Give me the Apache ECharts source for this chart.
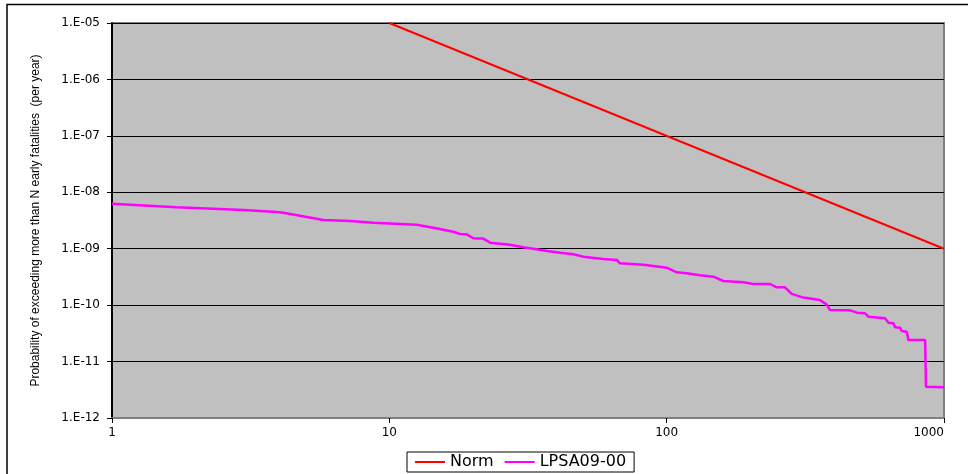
<!DOCTYPE html>
<html>
<head>
<meta charset="utf-8">
<script src="https://cdn.jsdelivr.net/npm/echarts@6/dist/echarts.min.js"></script>
<style>
  html, body { margin: 0; padding: 0; background: #fff; }
  #chart-container { width: 968px; height: 474px; }
</style>
</head>
<body>
<div id="chart-container"></div>
<script>
// Norm criterion line (N, probability per year)
const normN = [10, 1000];
const normP = [1e-5, 1e-9];

// LPSA09-00 curve
const lpsaN = [1, 1.71, 2.98, 3.93, 4.15, 5.78, 7.22, 8.76, 12.55, 13.3,
    15.2, 17.0, 18.0, 19.0, 20.1, 21.8, 23.1, 27.2, 30.4, 33.0,
    37.0, 41.3, 46.1, 50.1, 59.1, 66.1, 67.9, 82.4, 100, 108.7,
    118, 131.9, 147.3, 160, 189, 203, 236, 249.5, 267, 282.5,
    311, 357, 378, 388, 459, 485, 519, 534, 613, 631,
    657, 666, 695, 704, 734, 744, 855, 861, 1000];
const lpsaP = [6.28e-9, 5.42e-9, 4.85e-9, 4.48e-9, 4.35e-9, 3.23e-9, 3.10e-9, 2.89e-9, 2.67e-9, 2.53e-9,
    2.23e-9, 2.0e-9, 1.82e-9, 1.80e-9, 1.53e-9, 1.51e-9, 1.28e-9, 1.18e-9, 1.06e-9, 1.0e-9,
    9.1e-10, 8.5e-10, 7.96e-10, 7.23e-10, 6.58e-10, 6.31e-10, 5.52e-10, 5.21e-10, 4.61e-10, 3.82e-10,
    3.66e-10, 3.38e-10, 3.19e-10, 2.68e-10, 2.54e-10, 2.40e-10, 2.37e-10, 2.07e-10, 2.07e-10, 1.58e-10,
    1.36e-10, 1.23e-10, 1.02e-10, 8.2e-11, 8.1e-11, 7.35e-11, 7.17e-11, 6.24e-11, 5.85e-11, 4.89e-11,
    4.77e-11, 4.05e-11, 3.98e-11, 3.48e-11, 3.39e-11, 2.41e-11, 2.41e-11, 3.59e-12, 3.5e-12];

// tick labels, indexed by decade
const xTickLabels = ['1', '10', '100', '1000'];
const yTickLabels = ['1.E-12', '1.E-11', '1.E-10', '1.E-09', '1.E-08', '1.E-07', '1.E-06', '1.E-05'];

const chartDom = document.getElementById('chart-container');
const myChart = echarts.init(chartDom, null, { renderer: 'canvas' });

const zip = (xs, ys) => xs.map((x, i) => [x, ys[i]]);
const decade = v => Math.round(Math.log10(v));

const option = {
    animation: false,
    backgroundColor: '#fff',
    graphic: [{
        type: 'rect',
        shape: { x: 7, y: 4.5, width: 1000, height: 500 },
        style: { fill: 'none', stroke: '#000', lineWidth: 1.5 },
        silent: true
    }],
    grid: {
        left: 112, right: 24, top: 23, bottom: 56,
        show: true,
        backgroundColor: '#c0c0c0',
        borderColor: '#808080',
        borderWidth: 2
    },
    legend: {
        left: 407, top: 452,
        padding: [1, 8],
        itemGap: 11,
        itemWidth: 30,
        itemHeight: 2,
        icon: 'rect',
        borderColor: '#000',
        borderWidth: 1,
        backgroundColor: '#fff',
        textStyle: { fontFamily: 'DejaVu Sans', fontSize: 16, color: '#000', lineHeight: 18 },
        data: ['Norm', 'LPSA09-00']
    },
    xAxis: {
        type: 'log',
        logBase: 10,
        min: 1, max: 1000,
        interval: 1,
        axisLine: { onZero: false, lineStyle: { color: '#808080', width: 2 } },
        axisTick: { show: true, inside: false, length: 5, lineStyle: { color: '#000' } },
        minorTick: { show: false },
        splitLine: { show: false },
        axisLabel: {
            margin: 9,
            color: '#000',
            fontFamily: 'DejaVu Sans',
            fontSize: 12,
            alignMaxLabel: 'right',
            formatter: v => xTickLabels[decade(v)]
        }
    },
    yAxis: {
        type: 'log',
        logBase: 10,
        min: 1e-12, max: 1e-5,
        interval: 1,
        name: 'Probability of exceeding more than N early fatalities  (per year)',
        nameLocation: 'middle',
        nameRotate: 90,
        nameGap: 70,
        nameTextStyle: { fontFamily: 'Liberation Sans Narrow, Liberation Sans, Arial', fontSize: 12, color: '#000' },
        axisLine: { show: true, lineStyle: { color: '#000', width: 2 } },
        axisTick: { show: true, inside: false, length: 5, lineStyle: { color: '#000' } },
        minorTick: { show: false },
        splitLine: { show: true, lineStyle: { color: '#000', width: 1 } },
        axisLabel: {
            margin: 12,
            color: '#000',
            fontFamily: 'DejaVu Sans',
            fontSize: 12,
            formatter: v => yTickLabels[decade(v) + 12]
        }
    },
    series: [
        {
            name: 'Norm',
            type: 'line',
            symbol: 'none',
            lineStyle: { color: '#ff0000', width: 2 },
            itemStyle: { color: '#ff0000' },
            data: zip(normN, normP)
        },
        {
            name: 'LPSA09-00',
            type: 'line',
            symbol: 'none',
            lineStyle: { color: '#ff00ff', width: 2.5 },
            itemStyle: { color: '#ff00ff' },
            data: zip(lpsaN, lpsaP)
        }
    ]
};
myChart.setOption(option);
</script>
</body>
</html>
